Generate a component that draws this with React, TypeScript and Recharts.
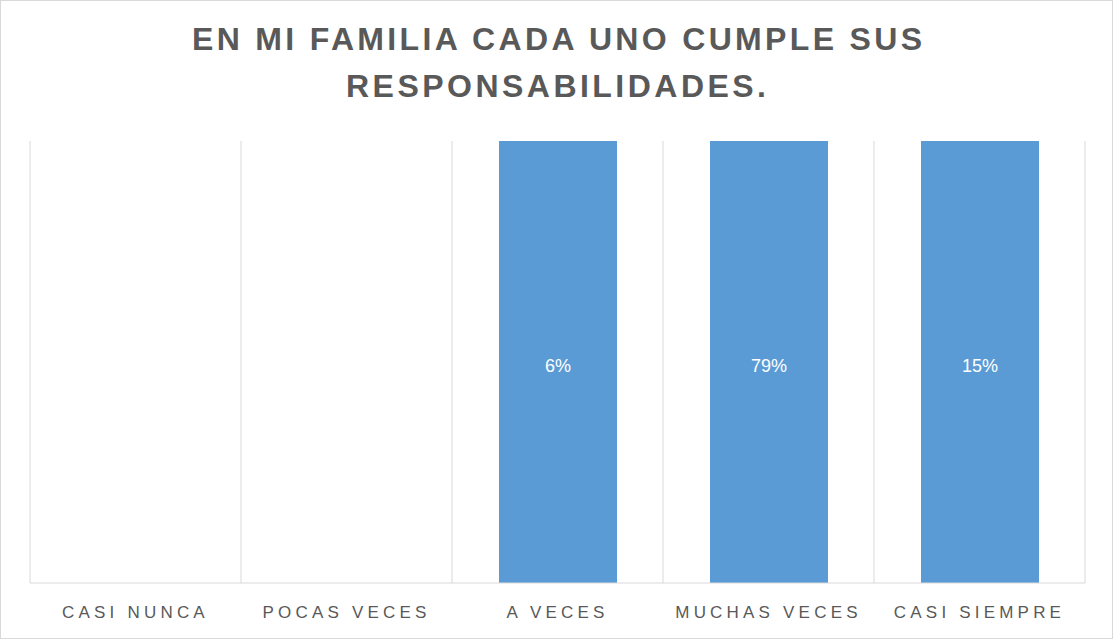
import { BarChart, Bar, XAxis, YAxis, CartesianGrid, LabelList } from 'recharts';

const categories = ['CASI NUNCA', 'POCAS VECES', 'A VECES', 'MUCHAS VECES', 'CASI SIEMPRE'];
const percentages = [0, 0, 6, 79, 15];
const titleLines = ['EN MI FAMILIA CADA UNO CUMPLE SUS', 'RESPONSABILIDADES.'];

const data = categories.map((name, i) => ({ name, value: percentages[i] }));

const W = 1113;
const H = 639;

function renderLabel(props: any) {
  const { x, y, width, height, value } = props;
  const pct = percentages[categories.indexOf(value)];
  return (
    <text
      x={x + width / 2}
      y={y + height / 2 + 4}
      fill="#ffffff"
      fontSize={18}
      fontFamily="Liberation Sans, Arial, sans-serif"
      textAnchor="middle"
      dominantBaseline="central"
    >
      {pct}%
    </text>
  );
}

function renderTick(props: any) {
  const { x, y, payload } = props;
  return (
    <text
      x={x}
      y={y + 27}
      fill="#595959"
      fontSize={17}
      fontFamily="Liberation Sans, Arial, sans-serif"
      letterSpacing={4.2}
      textAnchor="middle"
    >
      {payload.value}
    </text>
  );
}

export default function App() {
  return (
    <div
      style={{
        position: 'fixed',
        left: 0,
        top: 0,
        width: W,
        height: H,
        background: '#fff',
        border: '1px solid #d9d9d9',
        boxSizing: 'border-box',
      }}
    >
      <svg width={W} height={150} style={{ position: 'absolute', left: -1, top: -1 }}>
        <text
          x={557}
          y={50}
          textAnchor="middle"
          fill="#595959"
          fontSize={32}
          fontWeight="bold"
          fontFamily="Liberation Sans Narrow, Liberation Sans, Arial, sans-serif"
          textLength={730}
          lengthAdjust="spacing"
        >
          {titleLines[0]}
        </text>
        <text
          x={556}
          y={97}
          textAnchor="middle"
          fill="#595959"
          fontSize={32}
          fontWeight="bold"
          fontFamily="Liberation Sans Narrow, Liberation Sans, Arial, sans-serif"
          textLength={420}
          lengthAdjust="spacing"
        >
          {titleLines[1]}
        </text>
      </svg>
      <BarChart
        width={W}
        height={H}
        data={data}
        stackOffset="expand"
        margin={{ top: 141, right: 28, left: 30, bottom: 26 }}
        style={{ position: 'absolute', left: -1, top: -1 }}
      >
        <CartesianGrid
          horizontal={false}
          stroke="#d9d9d9"
          verticalCoordinatesGenerator={({ offset }: any) =>
            [0, 1, 2, 3, 4, 5].map((i) => offset.left + (i * offset.width) / categories.length)
          }
        />
        <XAxis
          dataKey="name"
          axisLine={{ stroke: '#d9d9d9' }}
          tickLine={false}
          height={30}
          interval={0}
          tick={renderTick}
        />
        <YAxis hide domain={[0, 1]} />
        <Bar dataKey="value" stackId="a" fill="#5b9bd5" barSize={118} isAnimationActive={false}>
          <LabelList dataKey="name" content={renderLabel} />
        </Bar>
      </BarChart>
    </div>
  );
}
